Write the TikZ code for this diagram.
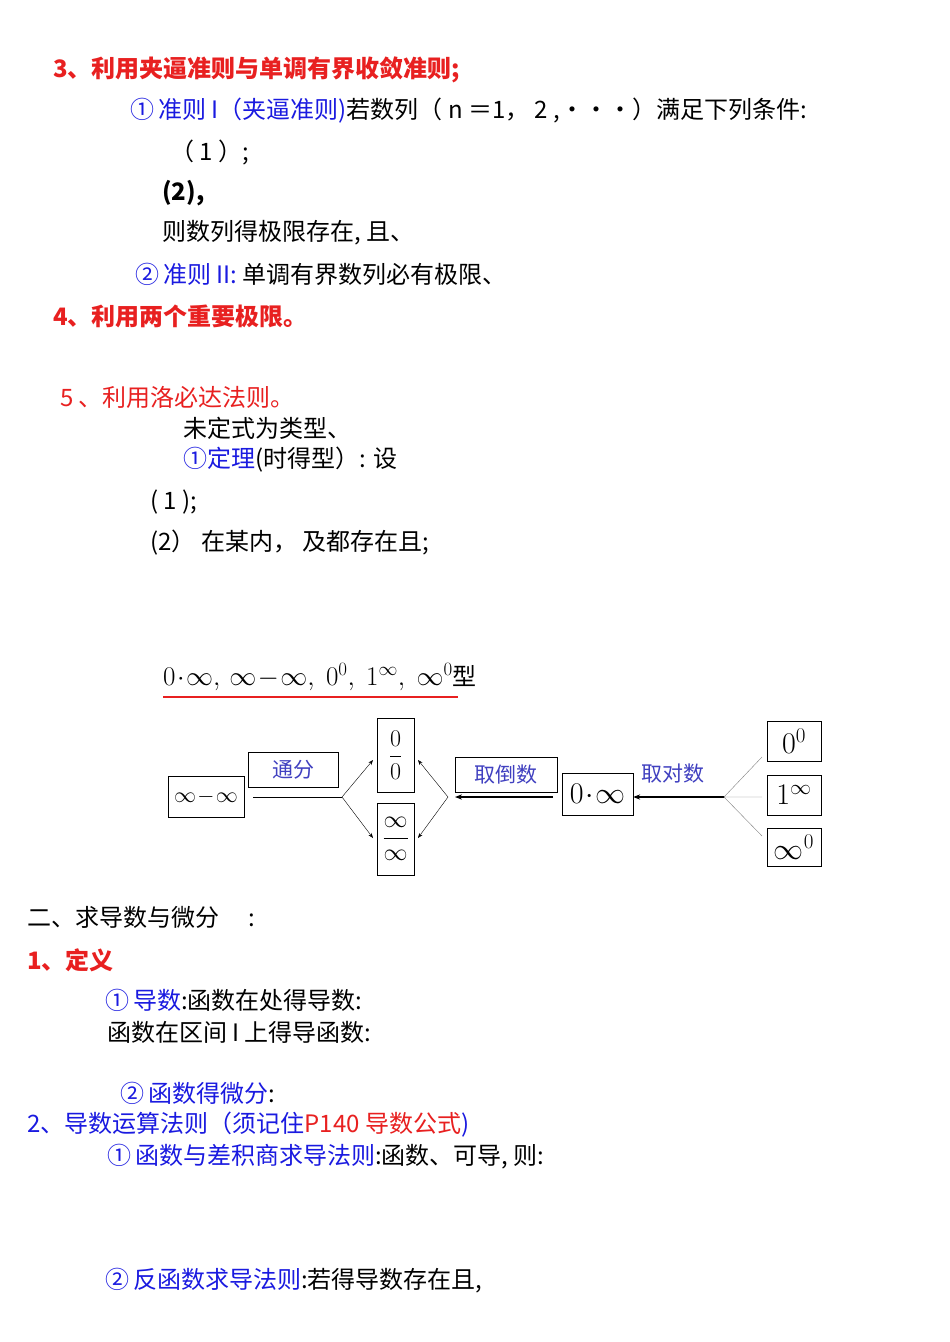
\RequirePackage{fix-cm}
\documentclass[tikz,border=0pt]{standalone}
\usepackage{fontspec}
\setmainfont{Liberation Serif}
\newfontfamily\cjk{Noto Sans CJK SC}
\usetikzlibrary{arrows.meta}
\definecolor{rd}{HTML}{E82020}
\definecolor{bl}{HTML}{1A1AE0}
\definecolor{pb}{HTML}{4040C0}
\newcommand{\R}[1]{\textcolor{rd}{#1}}
\newcommand{\B}[1]{\textcolor{bl}{#1}}
\begin{document}
\begin{tikzpicture}[x=1pt,y=-1pt,
  t/.style={anchor=west,inner sep=0pt,font=\cjk\fontsize{24}{28}\selectfont},
  bx/.style={draw,thin,inner sep=0pt,font=\fontsize{30}{34}\selectfont},
  lb/.style={text=pb,font=\cjk\fontsize{21}{25}\selectfont},
  ar/.style={-{Stealth[length=5pt]},thin},
  tk/.style={-{Stealth[length=7pt]},line width=1.6pt}]
\useasboundingbox[fill=white] (0,0) rectangle (950,1342);
\node[t] (l1) at (53,70) {\R{\textbf{3、利用夹逼准则与单调有界收敛准则;}}};
\node[t] (l2) at (130,111) {\B{①\,准则 I（夹逼准则)}若数列（ n ＝1，\ 2 ,···）满足下列条件:};
\node[t] (l3) at (170,153) {（ 1 ）;};
\node[t] (l4) at (162,193) {\textbf{(2),}};
\node[t] (l5) at (162,233) {则数列得极限存在, 且、};
\node[t] (l6) at (135,274) {\B{②\,准则 II:} 单调有界数列必有极限、};
\node[t] (l7) at (53,316) {\R{\textbf{4、利用两个重要极限。}}};
\node[t] (l8) at (60,397) {\R{5 、利用洛必达法则。}};
\node[t] (l9) at (183,428) {未定式为类型、};
\node[t] (l10) at (183,460) {\B{①定理}(时得型）: 设};
\node[t] (l11) at (150,502) {( 1 );};
\node[t] (l12) at (150,543) {(2）\ 在某内，\ 及都存在且;};
\node[anchor=west,inner sep=0pt] (m) at (163,677) {\fontsize{27}{30}\selectfont$0\!\cdot\!\infty,\,\infty\!-\!\infty,\ 0^0,\ 1^\infty,\ \infty^0$\cjk\fontsize{24}{28}\selectfont 型};
\draw[rd,line width=1.5pt] (163,697) -- (458,697);
% diagram
\node[bx,minimum width=76,minimum height=41,font=\fontsize{22}{26}\selectfont] (a) at (206,796.5) {$\infty\!-\!\infty$};
\node[bx,minimum width=90,minimum height=35,lb] (tf) at (293,769.5) {通分};
\node[bx,minimum width=37,minimum height=74,font=\fontsize{24}{28}\selectfont] (f1) at (395.5,755) {$\displaystyle\frac{0}{0}$};
\node[bx,minimum width=37,minimum height=72,font=\fontsize{24}{28}\selectfont] (f2) at (395.5,839) {$\displaystyle\frac{\infty}{\infty}$};
\node[bx,minimum width=102,minimum height=35,lb] (qd) at (506,774.5) {取倒数};
\node[bx,minimum width=71,minimum height=42] (z) at (597.5,794) {$0\!\cdot\!\infty$};
\node[lb] (qs) at (673,774) {取对数};
\node[bx,minimum width=54,minimum height=40] (p1) at (794,741) {$0^0$};
\node[bx,minimum width=54,minimum height=40] (p2) at (794,795) {$1^\infty$};
\node[bx,minimum width=54,minimum height=38] (p3) at (794,847) {$\infty^0$};
\coordinate (c1) at (342,797);
\coordinate (c2) at (448,797);
\coordinate (c3) at (724,797);
\coordinate (a1) at (253,797);
\coordinate (z1) at (553,797);
\draw[thin] (a1) -- (c1);
\draw[ar] (c1) -- (373,760);
\draw[ar] (c1) -- (373,838);
\draw[ar] (c2) -- (418,760);
\draw[ar] (c2) -- (418,838);
\draw[tk] (z1) -- (455,797);
\draw[tk] (c3) -- (z.east|-c3);
\draw[gray] (c3) -- (762,757) (c3) -- (762,797) (c3) -- (762,836);
% part 2
\node[t] (s1) at (27,917) {二、求导数与微分\quad\ :};
\node[t] (s2) at (27,960) {\R{\textbf{1、定义}}};
\node[t] (s3) at (105,1000) {\B{①\,导数}:函数在处得导数:};
\node[t] (s4) at (107,1032) {函数在区间 I 上得导函数:};
\node[t] (s5) at (120,1093) {\B{②\,函数得微分}:};
\node[t] (s6) at (27,1125) {\B{2、导数运算法则（须记住}\R{P140 导数公式}\B{)}};
\node[t] (s7) at (107,1157) {\B{①\,函数与差积商求导法则}:函数、可导, 则:};
\node[t] (s8) at (105,1281) {\B{②\,反函数求导法则}:若得导数存在且,};
\end{tikzpicture}
\end{document}
